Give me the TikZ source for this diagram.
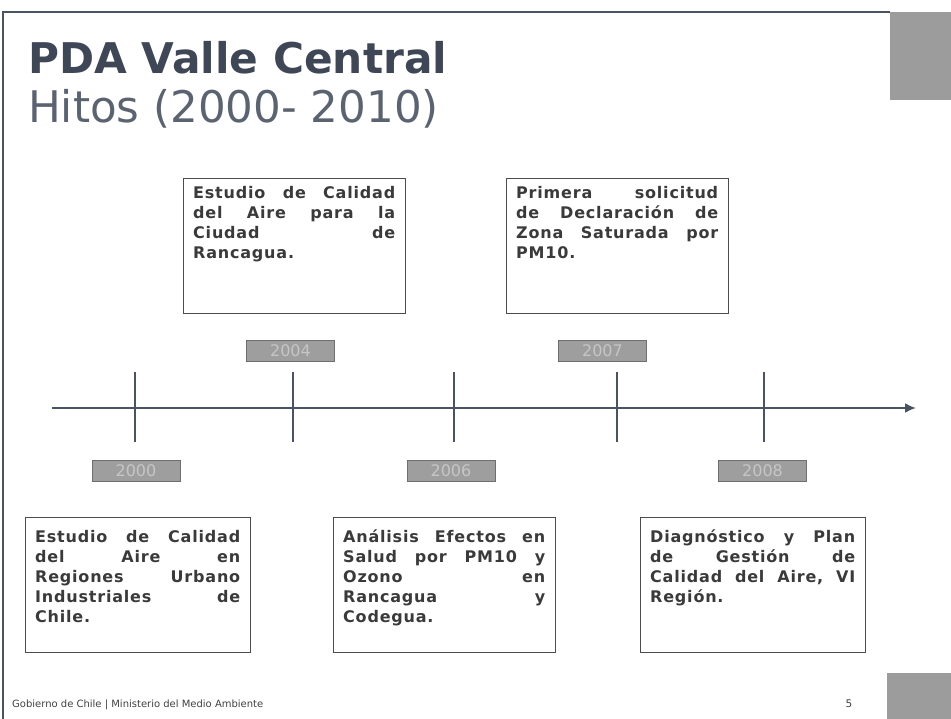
\documentclass[tikz,border=0pt]{standalone}
\usepackage{fontspec}
\setmainfont{DejaVu Sans}
\newfontfamily\boxfont[LetterSpace=5]{DejaVu Sans}
\usetikzlibrary{arrows.meta}
\definecolor{titlecol}{HTML}{3F4757}
\definecolor{framecol}{HTML}{4A5264}
\definecolor{yearfill}{HTML}{9E9E9E}
\definecolor{yearedge}{HTML}{6E6E6E}
\definecolor{yeartext}{HTML}{C6C6C6}
\definecolor{cornergray}{HTML}{9C9C9C}
\definecolor{boxtextcol}{HTML}{3A3A3A}
\newcommand{\jl}[2]{\leavevmode\hbox to #1{#2}\\}
\newcommand{\lastl}[1]{#1}
\tikzset{
  evbox/.style={draw=black!70, line width=0.8pt, inner sep=0pt, minimum height=135pt},
  evtext/.style={inner sep=0pt, anchor=base west, align=left, text=boxtextcol,
    font=\boxfont\fontsize{16}{20}\selectfont\bfseries},
  yearbox/.style={draw=yearedge, fill=yearfill, line width=0.8pt, minimum width=88pt,
    minimum height=21pt, inner sep=0pt, text=yeartext, font=\fontsize{16}{16}\selectfont},
  tickline/.style={draw=framecol, line width=1.5pt},
  axisline/.style={draw=framecol, line width=2pt, -{Latex[length=11pt,width=10pt]}},
}
\begin{document}
\begin{tikzpicture}[x=1pt,y=-1pt]
\useasboundingbox (0,0) rectangle (951,719);
% frame and corner squares
\fill[cornergray] (890,12) rectangle (951,100);
\fill[cornergray] (887,673) rectangle (951,719);
\coordinate (fl) at (3,719);
\coordinate (fc) at (3,12);
\coordinate (fr) at (890,12);
\draw[framecol, line width=1.5pt] (fl) -- (fc) -- (fr);
% titles
\node[anchor=base west, inner sep=0pt, text=titlecol, font=\fontsize{42.3}{42.3}\selectfont\bfseries] (title) at (28,74) {PDA Valle Central};
\node[anchor=base west, inner sep=0pt, text=titlecol!85, font=\fontsize{43.6}{43.6}\selectfont] (subtitle) at (28,123) {Hitos (2000- 2010)};
% timeline
\coordinate (axs) at (52,408);
\coordinate (axe) at (916,408);
\draw[axisline] (axs) -- (axe);
\foreach \n/\x in {a/135,b/293,c/454,d/617,e/764}{
  \coordinate (\n top) at (\x,372);
  \coordinate (\n bot) at (\x,442);
  \draw[tickline] (\n top) -- (\n bot);
}
% year labels
\node[yearbox] (y2004) at (290.5,350.5) {2004};
\node[yearbox] (y2007) at (602.5,350.5) {2007};
\node[yearbox] (y2000) at (136,470.5) {2000};
\node[yearbox] (y2006) at (451,470.5) {2006};
\node[yearbox] (y2008) at (762.5,470.5) {2008};
% event boxes
\node[evbox, minimum width=222pt, anchor=north west] (b2004) at (183,178) {};
\node[evtext, text width=202pt] (t2004) at (193,199)
 {\jl{202pt}{Estudio\hfill de\hfill Calidad}\jl{202pt}{del\hfill Aire\hfill para\hfill la}\jl{202pt}{Ciudad\hfill de}\lastl{Rancagua.}};
\node[evbox, minimum width=222pt, anchor=north west] (b2007) at (506,178) {};
\node[evtext, text width=202pt] (t2007) at (516,199)
 {\jl{202pt}{Primera\hfill solicitud}\jl{202pt}{de\hfill Declaración\hfill de}\jl{202pt}{Zona\hfill Saturada\hfill por}\lastl{PM10.}};
\node[evbox, minimum width=225pt, anchor=north west] (b2000) at (25,517) {};
\node[evtext, text width=205pt] (t2000) at (35,542)
 {\jl{205pt}{Estudio\hfill de\hfill Calidad}\jl{205pt}{del\hfill Aire\hfill en}\jl{205pt}{Regiones\hfill Urbano}\jl{205pt}{Industriales\hfill de}\lastl{Chile.}};
\node[evbox, minimum width=222pt, anchor=north west] (b2006) at (333,517) {};
\node[evtext, text width=202pt] (t2006) at (343,542)
 {\jl{202pt}{Análisis\hfill Efectos\hfill en}\jl{202pt}{Salud\hfill por\hfill PM10\hfill y}\jl{202pt}{Ozono\hfill en}\jl{202pt}{Rancagua\hfill y}\lastl{Codegua.}};
\node[evbox, minimum width=225pt, anchor=north west] (b2008) at (640,517) {};
\node[evtext, text width=205pt] (t2008) at (650,542)
 {\jl{205pt}{Diagnóstico\hfill y\hfill Plan}\jl{205pt}{de\hfill Gestión\hfill de}\jl{205pt}{Calidad\hfill del\hfill Aire,\hfill VI}\lastl{Región.}};
% footer
\node[anchor=base west, inner sep=0pt, text=black!75, font=\fontsize{10}{10}\selectfont] (foot) at (12,707) {Gobierno de Chile | Ministerio del Medio Ambiente};
\node[anchor=base, inner sep=0pt, text=black!75, font=\fontsize{10.5}{10.5}\selectfont] (page) at (849,707) {5};
\end{tikzpicture}
\end{document}
